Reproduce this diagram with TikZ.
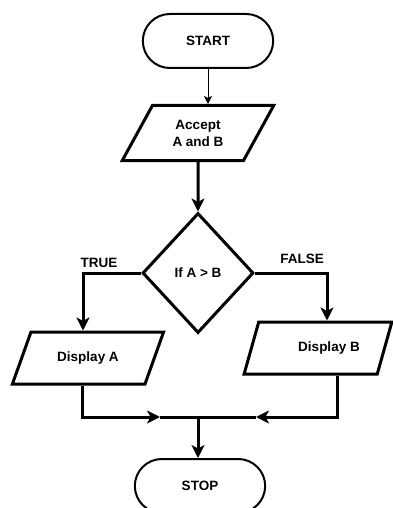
\documentclass[tikz,border=0pt]{standalone}
\usepackage{fontspec}
\setmainfont{Liberation Sans}
\usetikzlibrary{shapes.geometric, shapes.misc, arrows.meta, positioning}
\tikzstyle{terminal} = [rounded rectangle, minimum width=137pt, minimum height=54pt, line width=2pt, draw=black, font=\bfseries\fontsize{13.5}{16}\selectfont]
\tikzstyle{io} = [trapezium, trapezium left angle=60, trapezium right angle=120, trapezium stretches=true, minimum width=152pt, minimum height=52pt, line width=3pt, draw=black, align=center, font=\bfseries\fontsize{13.5}{17}\selectfont]
\tikzstyle{decision} = [diamond, minimum width=111pt, minimum height=120pt, inner sep=0pt, line width=3pt, draw=black, font=\bfseries\fontsize{13.5}{16}\selectfont]
\tikzstyle{branchLabel} = [font=\bfseries\fontsize{13.5}{16}\selectfont]
\tikzstyle{arrow} = [line width=3pt, -{Stealth[length=13pt, width=13pt, inset=3.5pt]}]
\tikzstyle{thinArrow} = [line width=1pt, -{Stealth[length=8pt, width=8pt, inset=2pt]}]
\tikzstyle{link} = [line width=3pt, -]

\begin{document}
\begin{tikzpicture}[x=1pt, y=-1pt]
    \useasboundingbox (0,0) rectangle (392,508);
    \node (start) [terminal] at (208,41) {START};
    \node (accept) [io, minimum height=55pt] at (198,133) {Accept\\A and B};
    \node (cond) [decision] at (198,273) {If A > B};
    \node (dispA) [io] at (88,358) {Display A};
    \node (dispB) [io, minimum width=148pt] at (318,348) {\hspace*{22pt}Display B};
    \node (stop) [terminal] at (200,486) {STOP};
    \node (true) [branchLabel] at (99,263) {TRUE};
    \node (false) [branchLabel] at (302,259) {FALSE};
    \coordinate (join) at (198,417);
    \coordinate (tipA) at (160,417);
    \coordinate (tipB) at (256,417);
    \draw [thinArrow] (start.south) -- (start.south |- accept.north);
    \draw [arrow] (accept.south) -- (cond.north);
    \draw [arrow] (cond.west) -| ([xshift=-5pt]dispA.center |- dispA.north);
    \draw [arrow] (cond.east) -| ([xshift=9pt]dispB.center |- dispB.north);
    \draw [arrow] ([xshift=-6pt]dispA.center |- dispA.south) |- (tipA);
    \draw [link] (tipA) -- (join);
    \draw [arrow] ([xshift=19pt]dispB.center |- dispB.south) |- (tipB);
    \draw [link] (tipB) -- (join);
    \draw [arrow] (join) -- (join |- stop.north);
\end{tikzpicture}
\end{document}
